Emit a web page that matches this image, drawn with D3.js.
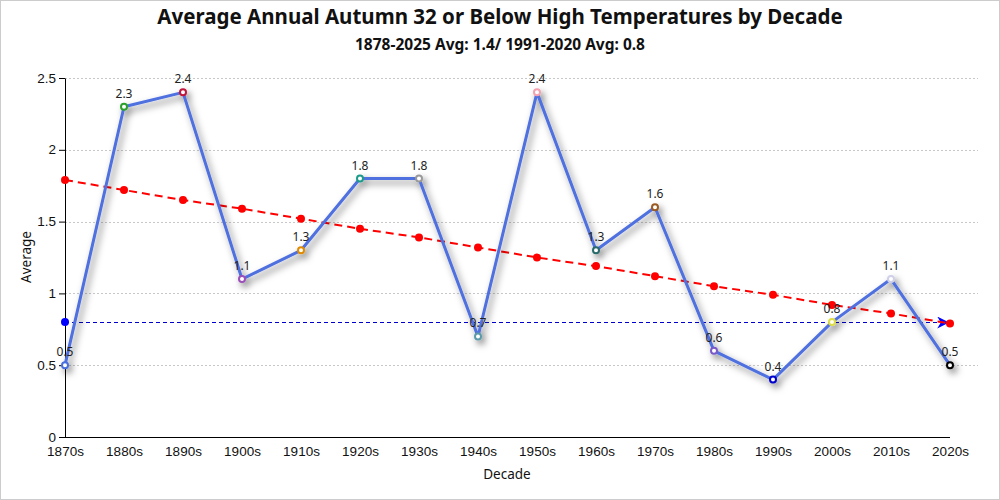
<!DOCTYPE html>
<html><head><meta charset="utf-8">
<script src="https://cdn.jsdelivr.net/npm/d3@7"></script>
<style>
body{margin:0;background:#fff;}
svg{display:block;font-family:"Segoe UI","Noto Sans","Open Sans",sans-serif;}
</style></head><body>
<svg id="c" width="1000" height="500"></svg>
<script>
const decades = ["1870s","1880s","1890s","1900s","1910s","1920s","1930s","1940s","1950s","1960s","1970s","1980s","1990s","2000s","2010s","2020s"];
const averages = [0.5,2.3,2.4,1.1,1.3,1.8,1.8,0.7,2.4,1.3,1.6,0.6,0.4,0.8,1.1,0.5];
const trend = [1.79,1.72,1.65,1.59,1.52,1.45,1.39,1.32,1.25,1.19,1.12,1.05,0.99,0.92,0.86,0.79];
const normal = 0.8;
const markerColors = ["#4a6fdc","#2ca02c","#c0143c","#9b4fb8","#e08a00","#1a9a8a","#999999","#5a9aaa","#f4a0b0","#2a6a6a","#9a5a20","#7a5ac8","#0000cc","#dddd44","#d0d0e8","#000000"];
const yTicks = [0,0.5,1,1.5,2,2.5];
const yTickLabels = ["0","0.5","1","1.5","2","2.5"];

const svg = d3.select("#c");
const W=1000,H=500;
svg.append("rect").attr("x",0.5).attr("y",0.5).attr("width",W-1).attr("height",H-1).attr("fill","#fff").attr("stroke","#ccc");

const x = d3.scalePoint().domain(decades).range([65,950]);
const y = d3.scaleLinear().domain([0,2.5]).range([437,78]);

const defs = svg.append("defs");
const f = defs.append("filter").attr("id","sh").attr("x","-20%").attr("y","-20%").attr("width","140%").attr("height","140%");
f.append("feDropShadow").attr("dx",3).attr("dy",4).attr("stdDeviation",3.5).attr("flood-color","#000").attr("flood-opacity",0.5);
defs.append("marker").attr("id","arr").attr("viewBox","0 0 10 10").attr("refX",9).attr("refY",5)
  .attr("markerWidth",16).attr("markerHeight",12).attr("markerUnits","userSpaceOnUse").attr("orient","auto")
  .append("path").attr("d","M0,0 L10,5 L0,10 L3,5 Z").attr("fill","#0000ff");

// grid
svg.append("g").selectAll("line").data(yTicks.slice(1)).join("line")
  .attr("x1",65).attr("x2",978).attr("y1",d=>Math.round(y(d))+0.5).attr("y2",d=>Math.round(y(d))+0.5)
  .attr("stroke","#c8c8c8").attr("stroke-dasharray","2,2");

// axes
const ya = svg.append("g").attr("transform","translate(65,0)")
  .call(d3.axisLeft(y).tickValues(yTicks).tickFormat((d,i)=>yTickLabels[i]).tickSize(6).tickSizeOuter(0));
ya.select(".domain").attr("stroke","#000");
ya.selectAll("text").attr("font-size",13.5).attr("fill","#111").attr("font-family","inherit").attr("dy","0.3em");
const xa = svg.append("g").attr("transform","translate(0,437)")
  .call(d3.axisBottom(x).tickSize(0).tickPadding(9).tickSizeOuter(0));
xa.select(".domain").attr("stroke","#000").attr("d","M65,0.5H950");
xa.selectAll("text").attr("font-size",13.5).attr("fill","#111").attr("font-family","inherit");

// titles
svg.append("text").attr("x",500).attr("y",24).attr("text-anchor","middle").attr("font-size",20.5).attr("font-weight","bold").attr("fill","#111")
  .text("Average Annual Autumn 32 or Below High Temperatures by Decade");
svg.append("text").attr("x",500).attr("y",50).attr("text-anchor","middle").attr("font-size",15.5).attr("font-weight","bold").attr("fill","#111")
  .text("1878-2025 Avg: 1.4/ 1991-2020 Avg: 0.8");
svg.append("text").attr("x",507).attr("y",479).attr("text-anchor","middle").attr("font-size",13.5).attr("fill","#111").text("Decade");
svg.append("text").attr("transform","translate(31,257) rotate(-90)").attr("text-anchor","middle").attr("font-size",13.5).attr("fill","#111").text("Average");

// normal line
const ny = Math.round(y(normal))+0.5;
svg.append("line").attr("x1",x(decades[0])).attr("x2",x(decades[decades.length-1])-2).attr("y1",ny).attr("y2",ny)
  .attr("stroke","#0000cc").attr("stroke-width",1).attr("stroke-dasharray","4,3").attr("marker-end","url(#arr)");
svg.append("circle").attr("cx",x(decades[0])).attr("cy",y(normal)).attr("r",4).attr("fill","#0000ff");

// trend
svg.append("path").datum(trend).attr("fill","none").attr("stroke","#ff0000").attr("stroke-width",2).attr("stroke-dasharray","8,5")
  .attr("d",d3.line().x((d,i)=>x(decades[i])).y(d=>y(d)));
svg.append("g").selectAll("circle").data(trend).join("circle")
  .attr("cx",(d,i)=>x(decades[i])).attr("cy",d=>y(d)).attr("r",4).attr("fill","#ff0000");

// main series
const g = svg.append("g").attr("filter","url(#sh)");
g.append("path").datum(averages).attr("fill","none").attr("stroke","#4f6fdf").attr("stroke-width",3).attr("stroke-linejoin","round")
  .attr("d",d3.line().x((d,i)=>x(decades[i])).y(d=>y(d)));
g.selectAll("circle").data(averages).join("circle")
  .attr("cx",(d,i)=>x(decades[i])).attr("cy",d=>y(d)).attr("r",3).attr("fill","#fff")
  .attr("stroke",(d,i)=>markerColors[i]).attr("stroke-width",2);

svg.append("g").selectAll("text").data(averages).join("text")
  .attr("x",(d,i)=>x(decades[i])).attr("y",d=>y(d)-9).attr("text-anchor","middle")
  .attr("font-size",12).attr("fill","#222").text(d=>d);
</script></body></html>
